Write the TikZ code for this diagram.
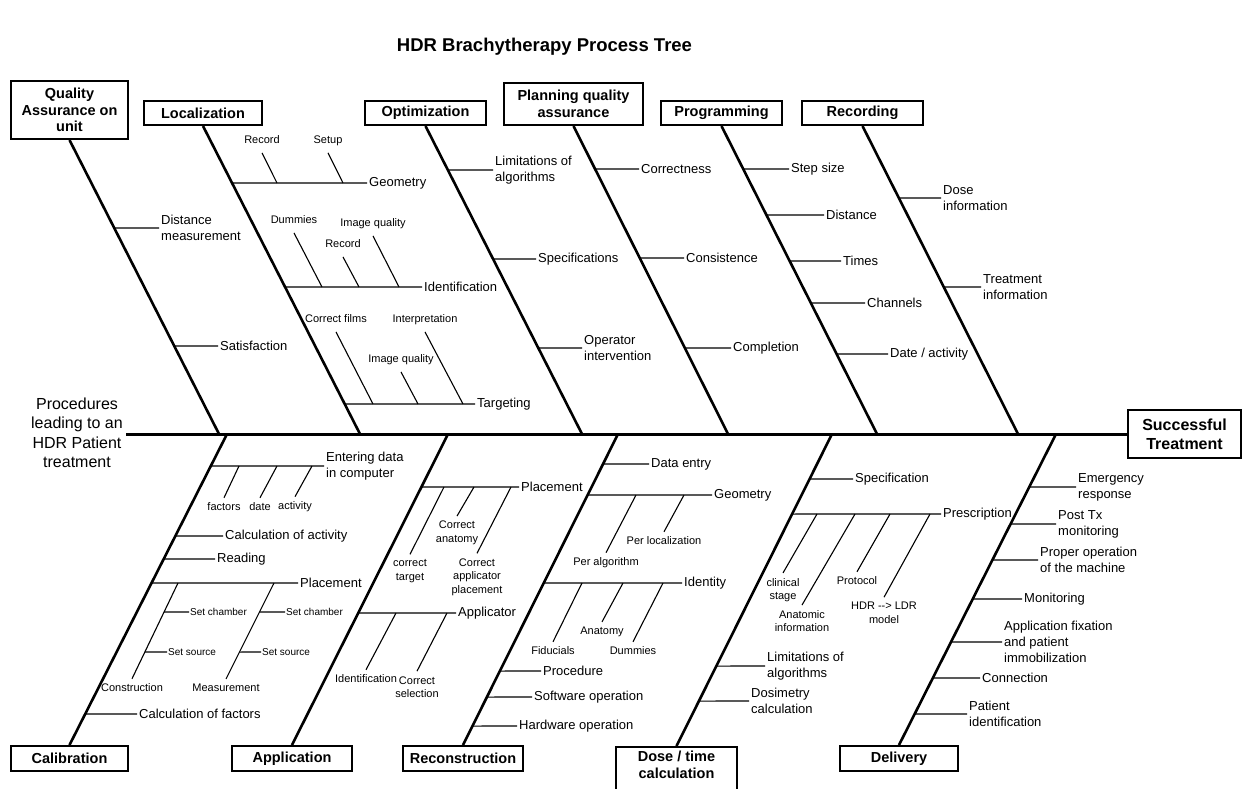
\documentclass[tikz,border=0pt]{standalone}
\usepackage{fontspec}
\setmainfont{Liberation Sans}

\begin{document}
\begin{tikzpicture}[x=1pt,y=-1pt,
        headbox/.style={draw,line width=2pt,font=\fontsize{14.5}{16.5}\selectfont\bfseries,align=center,inner sep=0pt,minimum height=24pt},
        bone/.style={line width=2.6pt},
        twig/.style={line width=1.1pt},
        lbl/.style={font=\fontsize{13}{16}\selectfont,align=left,anchor=west,inner xsep=2pt,inner ysep=1pt},
        leaf/.style={font=\fontsize{11}{13.5}\selectfont,align=center,inner sep=1pt},
        setlbl/.style={font=\fontsize{10}{12}\selectfont,anchor=west,inner sep=1pt}]
    \useasboundingbox (0,0) rectangle (1244,788);
    \node[font=\fontsize{18.5}{22}\selectfont\bfseries] (title) at (544.5,47) {HDR Brachytherapy Process Tree};
    % heads of the bones
    \node[headbox,minimum width=117pt,minimum height=58pt] (qa) at (69.5,110) {Quality\\Assurance on\\unit};
    \node[headbox,minimum width=118pt] (loc) at (203,113) {Localization};
    \node[headbox,minimum width=121pt] (opt) at (425.5,113) {Optimization};
    \node[headbox,minimum width=139pt,minimum height=42pt] (pqa) at (573.5,104) {Planning quality\\assurance};
    \node[headbox,minimum width=121pt] (prg) at (721.5,113) {Programming};
    \node[headbox,minimum width=121pt] (rcd) at (862.5,113) {Recording};
    \node[headbox,minimum width=117pt,minimum height=25pt] (cal) at (69.5,758.5) {Calibration};
    \node[headbox,minimum width=120pt,minimum height=25pt] (app) at (292,758.5) {Application};
    \node[headbox,minimum width=120pt,minimum height=25pt] (rcn) at (463,758.5) {Reconstruction};
    \node[headbox,minimum width=121pt,anchor=north,inner ysep=4pt] (dos) at (676.5,746) {Dose / time\\calculation\\[14pt]\mbox{}};
    \node[headbox,minimum width=118pt,minimum height=25pt] (del) at (899,758.5) {Delivery};
    \node[headbox,minimum width=113pt,minimum height=48pt,font=\fontsize{16}{19}\selectfont\bfseries] (goal) at (1184.5,434) {Successful\\Treatment};
    \node[font=\fontsize{16}{19.5}\selectfont,align=center] (proc) at (77,433) {Procedures\\leading to an\\HDR Patient\\treatment};
    % spine and bones
    \draw[line width=3pt] (proc.east |- goal.west) -- (goal.west);
    \foreach \n/\x in {qa/219,loc/360,opt/582,pqa/728,prg/877,rcd/1018,cal/227,app/448,rcn/618,dos/832,del/1056}
        \coordinate (e\n) at (\x,434);
    \foreach \n in {qa,loc,opt,pqa,prg,rcd}
        \coordinate (s\n) at (\n.south);
    \foreach \n in {cal,app,rcn,dos,del}
        \coordinate (s\n) at (\n.north);
    \foreach \n in {qa,loc,opt,pqa,prg,rcd,cal,app,rcn,dos,del}
        \draw[bone] (s\n) -- (e\n);
    % causes on each bone
    \foreach \n/\y/\lx/\txt in {qa/228/159/{Distance\\measurement}, qa/346/218/Satisfaction,
            loc/183/367/Geometry, loc/287/422/Identification, loc/404/475/Targeting,
            opt/170/493/{Limitations of\\algorithms}, opt/259/536/Specifications, opt/348/582/{Operator\\intervention},
            pqa/169/639/Correctness, pqa/258/684/Consistence, pqa/348/731/Completion,
            prg/169/789/{Step size}, prg/215/824/Distance, prg/261/841/Times, prg/303/865/Channels, prg/354/888/{Date / activity},
            rcd/198/941/{Dose\\information}, rcd/287/981/{Treatment\\information},
            cal/466/324/{Entering data\\in computer}, cal/536/223/{Calculation of activity}, cal/559/215/Reading,
            cal/583/298/Placement, cal/714/137/{Calculation of factors},
            app/487/519/Placement, app/613/456/Applicator,
            rcn/464/649/{Data entry}, rcn/495/712/Geometry, rcn/583/682/Identity, rcn/671/541/Procedure,
            rcn/697/532/{Software operation}, rcn/726/517/{Hardware operation},
            dos/479/853/Specification, dos/514/941/Prescription, dos/666/765/{Limitations of\\algorithms}, dos/701/749/{Dosimetry\\calculation},
            del/487/1076/{Emergency\\response}, del/524/1056/{Post Tx\\monitoring}, del/560/1038/{Proper operation\\of the machine},
            del/599/1022/Monitoring, del/642/1002/{Application fixation\\and patient\\immobilization}, del/678/980/Connection,
            del/714/967/{Patient\\identification}}{
        \coordinate (\n\y) at (intersection cs:first line={(s\n)--(e\n)},second line={(0,\y)--(1,\y)});
        \node[lbl] (\n\y l) at (\lx,\y) {\txt};
        \draw[twig] (\n\y) -- (\n\y l.west);
    }
    % sub causes above a line
    \foreach \i/\lx/\ly/\px/\py/\txt in {1/262/141/277/183/Record, 2/328/141/343/183/Setup,
            3/294/221/322/287/Dummies, 4/343/245/359/287/Record, 5/373/224/399/287/{Image quality},
            6/336/320/373/404/{Correct films}, 7/401/360/418/404/{Image quality}, 8/425/320/463/404/Interpretation}{
        \coordinate (tp\i) at (\px,\py);
        \node[leaf,text depth=2.5pt] (t\i) at (\lx,\ly) {\txt};
        \draw[twig] ([yshift=-5.5pt]t\i.south) -- (tp\i);
    }
    % sub causes below a line
    \foreach \i/\lx/\ly/\px/\py/\txt in {1/224/507/239/466/factors, 2/260/507/277/466/date, 3/295/507/312/466/activity,
            4/410/571/444/487/{correct\\target}, 5/457/533/474/487/{Correct\\anatomy},
            6/477/577/511/487/{Correct\\applicator\\placement},
            7/366/679/396/613/Identification, 8/417/687/447/613/{Correct\\selection},
            9/606/563/636/495/{Per algorithm}, 10/664/541/684/495/{Per localization},
            11/553/651/582/583/Fiducials, 12/602/632/623/583/Anatomy, 13/633/651/663/583/Dummies,
            14/783/590/817/514/{clinical\\stage}, 15/802/621/855/514/{Anatomic\\information},
            16/857/581/890/514/Protocol, 17/884/613/930/514/{HDR -\kern0pt-> LDR\\model}}{
        \coordinate (bp\i) at (\px,\py);
        \node[leaf] (b\i) at (\lx,\ly) {\txt};
        \draw[twig] (bp\i) -- ([yshift=4pt]b\i.north);
    }
    % calibration placement
    \node[leaf] (cons) at (132,688) {Construction};
    \node[leaf] (meas) at (226,688) {Measurement};
    \coordinate (consp) at (178,583);
    \coordinate (measp) at (274,583);
    \coordinate (consb) at ([yshift=4pt]cons.north);
    \coordinate (measb) at ([yshift=4pt]meas.north);
    \draw[twig] (consp) -- (consb);
    \draw[twig] (measp) -- (measb);
    \foreach \bn/\y/\lx/\txt in {cons/612/189/{Set chamber}, cons/652/167/{Set source},
            meas/612/285/{Set chamber}, meas/652/261/{Set source}}{
        \coordinate (\bn\y) at (intersection cs:first line={(\bn p)--(\bn b)},second line={(0,\y)--(1,\y)});
        \node[setlbl] (\bn\y l) at (\lx,\y) {\txt};
        \draw[twig] (\bn\y) -- (\bn\y l.west);
    }
\end{tikzpicture}
\end{document}
